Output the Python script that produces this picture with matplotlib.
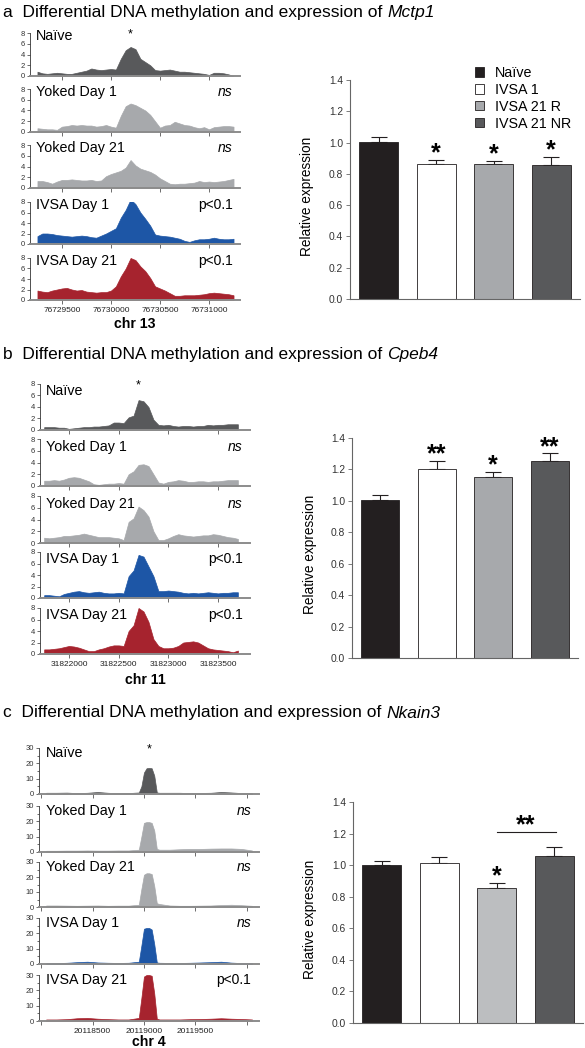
import numpy as np
import matplotlib
matplotlib.use('Agg')
import matplotlib.pyplot as plt
from matplotlib.patches import Patch
from matplotlib.ticker import MultipleLocator

plt.rcParams['font.family'] = ['Liberation Sans', 'DejaVu Sans']

W, H = 585, 1048

# ---------------- data ----------------
track_names = ['Naïve', 'Yoked Day 1', 'Yoked Day 21', 'IVSA Day 1', 'IVSA Day 21']
track_colors = ['#58595b', '#a7a9ac', '#a7a9ac', '#1d56a6', '#a6232e']

# a: Mctp1, chr 13 (positions every 50 bp)
a_pos = np.arange(76729250, 76731251, 50)
a_naive = [0.8, 0.5, 0.4, 0.5, 0.6, 0.5, 0.4, 0.4, 0.6, 0.8, 1.0, 1.4, 1.2, 1.1, 1.2, 1.3, 1.2,
           3.2, 4.8, 5.4, 5.0, 3.2, 2.6, 2.0, 1.1, 1.0, 1.1, 1.2, 1.0, 0.8, 0.8, 0.7, 0.6, 0.5,
           0.4, 0.2, 0.6, 0.6, 0.5, 0.3, 0.0]
a_yoked1 = [0.7, 0.6, 0.5, 0.5, 0.4, 1.0, 1.1, 1.3, 1.2, 1.3, 1.2, 1.2, 1.0, 1.1, 1.3, 1.0, 0.8,
            3.0, 4.8, 5.3, 5.0, 4.5, 4.0, 3.2, 2.0, 0.8, 1.2, 1.3, 1.9, 1.6, 1.3, 1.2, 0.9, 0.7,
            0.9, 0.5, 0.9, 1.0, 1.1, 1.1, 1.0]
a_yoked21 = [1.3, 1.3, 1.1, 0.8, 1.2, 1.5, 1.5, 1.6, 1.5, 1.4, 1.4, 1.5, 1.3, 1.4, 2.2, 2.6, 2.9,
             3.2, 3.8, 5.2, 4.2, 3.6, 3.3, 3.0, 2.5, 1.8, 1.3, 0.8, 0.7, 0.8, 0.8, 0.9, 1.0, 1.3,
             1.1, 1.2, 1.1, 1.2, 1.3, 1.5, 1.7]
a_ivsa1 = [1.5, 2.0, 2.0, 1.9, 1.7, 1.6, 1.5, 1.4, 1.5, 1.6, 1.5, 1.3, 1.2, 1.6, 2.0, 2.5, 3.0,
           5.0, 6.5, 8.5, 7.6, 6.0, 4.8, 3.5, 1.8, 1.6, 1.5, 1.4, 1.2, 1.0, 0.6, 0.4, 0.7, 0.9,
           0.9, 1.0, 1.2, 1.0, 0.9, 0.9, 1.0]
a_ivsa21 = [1.8, 1.6, 1.5, 1.8, 2.0, 2.2, 2.3, 2.0, 1.8, 1.9, 1.6, 1.5, 1.4, 1.5, 1.5, 1.8, 2.6,
            4.5, 6.0, 8.0, 7.6, 6.4, 5.5, 4.2, 2.6, 2.2, 1.8, 1.3, 0.8, 0.8, 0.9, 0.9, 0.9, 1.0,
            1.1, 1.3, 1.4, 1.3, 1.2, 1.1, 0.9]
a_sig = ['*', 'ns', 'ns', 'p<0.1', 'p<0.1']
a_ticks = [76729500, 76730000, 76730500, 76731000]

# b: Cpeb4, chr 11
b_pos = np.arange(31821750, 31823701, 50)
b_naive = [0.5, 0.5, 0.5, 0.4, 0.4, 0.2, 0.3, 0.4, 0.5, 0.5, 0.6, 0.6, 0.7, 0.8, 1.3, 1.3, 1.2,
           2.2, 2.5, 5.2, 5.0, 4.0, 1.8, 0.9, 0.8, 0.9, 0.7, 0.6, 0.7, 0.7, 0.6, 0.7, 0.7, 0.9,
           0.8, 0.9, 0.9, 1.0, 1.0, 1.0]
b_yoked1 = [0.9, 0.9, 1.0, 0.9, 1.1, 1.4, 1.5, 1.4, 1.1, 0.8, 0.3, 0.2, 0.3, 0.4, 0.4, 0.5, 0.4,
            2.0, 2.5, 3.6, 3.7, 3.4, 2.0, 0.6, 0.4, 0.7, 0.8, 1.0, 0.9, 0.7, 0.7, 0.8, 0.8, 0.7,
            0.8, 0.8, 0.9, 1.0, 1.0, 1.0]
b_yoked21 = [0.9, 0.8, 0.9, 1.0, 1.2, 1.2, 1.3, 1.4, 1.6, 1.4, 1.2, 1.0, 1.0, 1.0, 0.9, 0.8, 0.5,
             3.6, 4.2, 6.2, 5.6, 4.5, 2.0, 0.5, 0.5, 0.8, 1.2, 1.5, 1.3, 1.2, 1.1, 1.2, 1.3, 1.3,
             1.5, 1.4, 1.2, 1.0, 0.9, 0.7]
b_ivsa1 = [0.5, 0.5, 0.4, 0.3, 0.7, 0.9, 1.1, 1.2, 1.0, 0.9, 1.0, 1.1, 0.9, 0.8, 0.8, 0.9, 0.8,
           3.8, 4.8, 7.5, 7.2, 5.5, 3.8, 1.2, 1.2, 1.3, 1.2, 1.1, 0.9, 0.8, 0.9, 0.8, 0.9, 1.0,
           0.9, 0.8, 0.9, 0.9, 1.0, 1.0]
b_ivsa21 = [0.8, 0.8, 0.9, 1.0, 1.2, 1.4, 1.3, 1.1, 0.8, 0.5, 0.5, 0.8, 1.0, 1.3, 1.5, 1.5, 1.4,
            4.0, 5.0, 8.0, 7.4, 5.6, 2.6, 1.4, 1.0, 1.0, 1.1, 1.4, 2.0, 2.1, 2.2, 2.0, 1.5, 1.0,
            0.8, 0.7, 0.6, 0.5, 0.3, 0.6]
b_sig = ['*', 'ns', 'ns', 'p<0.1', 'p<0.1']
b_ticks = [31822000, 31822500, 31823000, 31823500]

# c: Nkain3, chr 4 (denser sampling around the peak)
c_pos = [20118050, 20118150, 20118250, 20118350, 20118450, 20118550, 20118650, 20118750,
         20118850, 20118950, 20118975, 20119000, 20119025, 20119050, 20119075, 20119100,
         20119125, 20119150, 20119250, 20119350, 20119450, 20119550, 20119650, 20119750,
         20119850, 20119950, 20120050]
c_naive = [0.8, 0.8, 0.9, 0.6, 0.8, 1.3, 0.8, 0.5, 0.6, 1.0, 5.0, 14.0, 16.8, 17.0, 16.8, 12.0,
           1.0, 0.8, 0.8, 0.8, 0.6, 0.7, 0.8, 1.3, 1.0, 0.6, 0.5]
c_yoked1 = [0.8, 0.8, 0.9, 0.9, 1.0, 0.9, 0.9, 1.0, 1.0, 1.5, 10.0, 19.0, 19.5, 19.5, 19.0, 14.0,
            2.0, 1.5, 1.5, 1.8, 2.0, 2.0, 2.2, 2.3, 2.3, 2.0, 1.0]
c_yoked21 = [1.0, 1.0, 0.9, 0.8, 0.9, 1.0, 0.8, 0.9, 0.9, 1.5, 12.0, 21.5, 22.5, 22.5, 22.0, 14.0,
             2.5, 2.0, 1.0, 0.8, 0.8, 0.9, 1.0, 1.3, 1.5, 1.2, 0.8]
c_ivsa1 = [0.5, 0.6, 0.8, 1.2, 1.5, 1.0, 0.8, 0.7, 0.8, 1.5, 12.0, 23.0, 23.5, 23.5, 22.5, 13.0,
           1.0, 0.8, 0.7, 0.7, 0.8, 1.0, 1.2, 1.5, 0.9, 0.6, 0.5]
c_ivsa21 = [1.0, 1.0, 1.2, 1.8, 2.0, 1.5, 1.2, 1.0, 1.0, 2.0, 15.0, 29.0, 30.0, 30.0, 29.5, 18.0,
            1.5, 1.0, 1.0, 1.0, 1.2, 1.3, 1.5, 1.8, 1.5, 1.3, 1.0]
c_sig = ['*', 'ns', 'ns', 'ns', 'p<0.1']
c_ticks = [20118000, 20118500, 20119000, 20119500, 20120000]
c_ticklabels = ['', '20118500', '20119000', '20119500', '']

# expression bars
groups = ['Naïve', 'IVSA 1', 'IVSA 21 R', 'IVSA 21 NR']
a_expr = [1.005, 0.862, 0.866, 0.855]
a_err = [0.033, 0.025, 0.017, 0.055]
a_stars = ['', '*', '*', '*']
b_expr = [1.005, 1.203, 1.155, 1.252]
b_err = [0.035, 0.052, 0.030, 0.050]
b_stars = ['', '**', '*', '**']
c_expr = [1.0, 1.013, 0.853, 1.061]
c_err = [0.027, 0.040, 0.036, 0.053]
c_stars = ['', '', '*', '']
c_bracket = (2, 3, 1.208, '**')

# ---------------- figure ----------------
fig = plt.figure(figsize=(W / 100, H / 100), dpi=100)
renderer = fig.canvas.get_renderer()


def px_axes(x0, y_top, x1, y_bot):
    return fig.add_axes([x0 / W, 1 - y_bot / H, (x1 - x0) / W, (y_bot - y_top) / H])


def track_panel(pos, tracks, sig, ymax, ystep, xlim, xticks, xlabels, x0, x1, tops, zeros,
                label_y, chr_text, chr_y, minor=None):
    for k in range(5):
        ax = px_axes(x0, tops[k], x1, zeros[k])
        ax.fill_between(pos, tracks[k], 0, color=track_colors[k], lw=0.5)
        ax.set_xlim(*xlim)
        ax.set_ylim(0, ymax)
        ax.set_yticks(np.arange(0, ymax + 1, ystep))
        if minor:
            ax.yaxis.set_minor_locator(MultipleLocator(minor))
            ax.tick_params(axis='y', which='minor', length=1.5, width=0.5, color='#333333')
        ax.set_xticks(xticks)
        if k == 4:
            ax.set_xticklabels(xlabels, fontsize=6, color='#222222')
        else:
            ax.set_xticklabels([])
        for s in ['top', 'right']:
            ax.spines[s].set_visible(False)
        ax.spines['left'].set_linewidth(0.6)
        ax.spines['left'].set_color('#333333')
        ax.spines['bottom'].set_linewidth(1.4)
        ax.spines['bottom'].set_color('#8c8c8c')
        ax.tick_params(axis='y', length=2.5, width=0.5, pad=1, labelsize=5.5,
                       color='#333333', labelcolor='#333333')
        ax.tick_params(axis='x', length=3, width=0.6, pad=2, color='#555555')
        ax.patch.set_alpha(0)
        ax.text(0.03, label_y, track_names[k], transform=ax.transAxes, fontsize=10.3,
                va='baseline', ha='left')
        if sig[k] == '*':
            # star over the naive peak
            peak = pos[int(np.argmax(tracks[k]))]
            ax.text(peak, ymax * 0.97, '*', fontsize=9, ha='center', va='center',
                    clip_on=False)
        else:
            ax.text(0.965, label_y, sig[k], transform=ax.transAxes, fontsize=10,
                    va='baseline', ha='right', style='italic' if sig[k] == 'ns' else 'normal')
    fig.text(((x0 + x1) / 2) / W, 1 - chr_y / H, chr_text, fontsize=10.2, fontweight='bold',
             ha='center', va='center')


def star(ax, x, y, st):
    ax.annotate(st, xy=(x, y), xytext=(0, -0.3), textcoords='offset points', ha='center',
                va='baseline', fontsize=18, fontweight='bold')


def bar_panel(vals, errs, stars, x0, x1, y_top, y_bot, colors, legend=False, bracket=None):
    ax = px_axes(x0, y_top, x1, y_bot)
    x = np.arange(len(groups))
    ax.bar(x, vals, width=0.67, color=colors, edgecolor='#231f20', linewidth=0.6, zorder=2)
    ax.errorbar(x, vals, yerr=[np.zeros(len(vals)), errs], fmt='none', ecolor='#231f20',
                elinewidth=0.8, capsize=6, capthick=0.8, zorder=1)
    for i, st in enumerate(stars):
        if st:
            star(ax, x[i], vals[i] + errs[i], st)
    if bracket:
        i0, i1, yb, st = bracket
        ax.plot([i0, i1 + 0.03], [yb, yb], color='#231f20', lw=0.8)
        star(ax, (i0 + i1) / 2, yb, st)
    ax.set_xlim(-0.5, 3.5)
    ax.set_ylim(0, 1.4)
    ax.set_yticks(np.arange(0, 1.41, 0.2))
    ax.set_yticklabels(['%.1f' % v for v in np.arange(0, 1.41, 0.2)])
    ax.set_xticks([])
    for s in ['top', 'right']:
        ax.spines[s].set_visible(False)
    for s in ['left', 'bottom']:
        ax.spines[s].set_linewidth(0.8)
        ax.spines[s].set_color('#666666')
    ax.tick_params(axis='y', length=3, width=0.6, color='#666666', labelsize=7.4,
                   labelcolor='#333333', pad=2)
    ax.set_ylabel('Relative expression', fontsize=9.8)
    ax.yaxis.set_label_coords(-0.155, 0.47)
    if legend:
        handles = [Patch(facecolor=colors[i], edgecolor='#231f20', linewidth=0.6,
                         label=groups[i]) for i in range(len(groups))]
        fig.legend(handles=handles, loc='upper left', bbox_to_anchor=(475 / W, 1 - 66 / H),
                   frameon=False, fontsize=10.3, handlelength=0.65, handleheight=0.65,
                   handletextpad=0.75, labelspacing=0.2, borderpad=0, borderaxespad=0)
    return ax


bar_colors = ['#231f20', '#ffffff', '#a7a9ac', '#58595b']
bar_colors_c = ['#231f20', '#ffffff', '#bcbec0', '#58595b']

# panel titles (gene name in italics right after the plain part)
for y, letter, gene in [(12, 'a', 'Mctp1'), (355, 'b', 'Cpeb4'), (713, 'c', 'Nkain3')]:
    t = fig.text(3 / W, 1 - y / H, letter + '  Differential DNA methylation and expression of ',
                 fontsize=12.5, ha='left', va='center')
    bb = t.get_window_extent(renderer)
    fig.text(bb.x1 / W, 1 - y / H, gene, fontsize=12.5, style='italic', ha='left', va='center')

# panel a
track_panel(a_pos, [a_naive, a_yoked1, a_yoked21, a_ivsa1, a_ivsa21], a_sig, 8, 2,
            (76729174, 76731316), a_ticks, [str(t) for t in a_ticks], 30, 240,
            [33, 89, 145, 202, 258], [76, 132, 188, 244, 300], 0.83, 'chr 13', 324)
bar_panel(a_expr, a_err, a_stars, 350, 580, 80, 299, bar_colors, legend=True)

# panel b
track_panel(b_pos, [b_naive, b_yoked1, b_yoked21, b_ivsa1, b_ivsa21], b_sig, 8, 2,
            (31821708, 31823822), b_ticks, [str(t) for t in b_ticks], 40, 250,
            [384, 439, 496, 552, 608], [430, 486, 543, 598, 654], 0.75, 'chr 11', 680)
bar_panel(b_expr, b_err, b_stars, 352, 578, 438, 658, bar_colors)

# panel c
track_panel(c_pos, [c_naive, c_yoked1, c_yoked21, c_ivsa1, c_ivsa21], c_sig, 30, 10,
            (20117980, 20120118), c_ticks, c_ticklabels, 39, 259,
            [748, 806, 862, 918, 975], [794, 852, 907, 964, 1021], 0.81, 'chr 4', 1042,
            minor=5)
bar_panel(c_expr, c_err, c_stars, 353, 583, 802, 1023, bar_colors_c, bracket=c_bracket)

fig.savefig('out.png', dpi=100)
